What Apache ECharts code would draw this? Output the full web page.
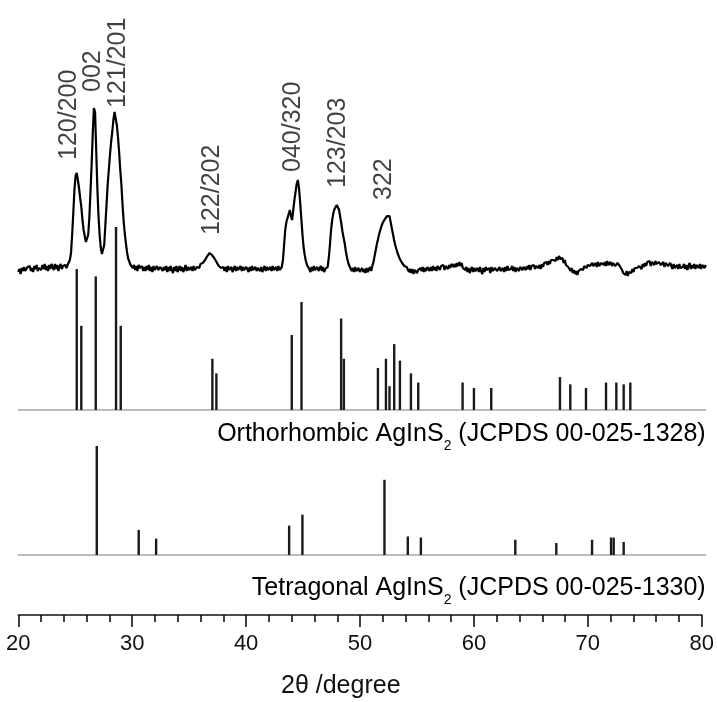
<!DOCTYPE html>
<html>
<head>
<meta charset="utf-8">
<script src="https://cdn.jsdelivr.net/npm/echarts@6/dist/echarts.min.js"></script>
<style>
  html, body { margin: 0; padding: 0; background: #fff; }
  #chart { width: 717px; height: 702px; }
</style>
</head>
<body>
<div id="chart"></div>
<script>
// measured XRD trace, 20-80 deg, 0.1 deg steps (a.u.)
const twoThetaStart = 20;
const twoThetaStep = 0.1;
const intensity = [
  8,11,6,12,9,13,9,8,13,11,
  14,9,12,8,14,11,15,9,12,14,
  10,15,11,16,10,14,9,15,11,16,
  13,10,16,11,15,9,13,16,11,14,
  12,15,12,15,17,20,27,45,67,90,
  104,107,100,92,82,73,60,50,44,38,
  38,45,62,88,115,147,172,168,130,92,
  64,45,32,26,25,35,55,75,95,110,
  125,138,148,160,168,166,155,143,128,110,
  95,75,58,46,36,27,21,18,15,14,
  12,15,10,14,9,15,12,10,14,9,
  13,9,14,10,15,9,13,8,14,10,
  9,14,10,8,13,15,9,13,10,14,
  8,13,9,14,10,7,13,9,14,8,
  11,14,9,13,8,11,15,9,13,10,
  8,13,9,14,10,9,13,15,12,16,
  14,17,16,20,19,24,23,27,26,25,
  24,22,20,18,16,14,13,12,11,13,
  9,13,8,14,10,9,13,8,11,14,
  9,13,10,8,14,9,13,10,8,13,
  11,8,13,9,14,10,8,13,9,12,
  14,9,13,8,11,14,9,13,10,8,
  13,9,14,10,8,13,9,14,10,12,
  13,20,35,50,58,62,66,70,64,60,
  70,80,88,96,100,92,78,62,46,33,
  25,19,15,13,11,8,13,9,14,10,
  8,13,9,11,14,9,13,8,11,13,
  13,22,35,50,60,67,71,73,75,74,
  70,63,56,48,42,36,28,22,17,14,
  12,9,12,8,13,9,7,12,8,10,
  12,8,11,7,12,8,10,13,9,14,
  18,24,30,36,41,46,50,54,57,59,
  61,62,64,66,64,58,52,46,40,35,
  31,27,24,21,19,17,15,14,13,13,
  11,8,11,7,11,6,10,11,7,10,
  8,12,9,13,8,12,9,13,11,9,
  13,9,14,10,13,9,14,12,10,14,
  12,15,10,14,16,11,15,12,16,14,
  13,16,13,17,14,18,14,17,12,11,
  10,13,8,12,7,10,13,8,12,9,
  7,12,8,13,9,6,12,8,13,10,
  8,12,7,13,9,8,12,14,9,8,
  13,9,7,12,8,13,9,14,10,8,
  11,14,9,13,8,12,14,9,13,11,
  10,13,15,10,14,11,15,10,14,12,
  15,11,14,16,12,15,11,16,13,17,
  15,18,15,19,16,20,19,20,22,19,
  23,20,24,21,20,22,17,20,15,16,
  13,12,9,12,7,10,6,9,5,9,
  8,11,13,10,14,16,12,15,17,14,
  14,17,14,12,17,13,18,14,12,17,
  19,15,18,14,19,15,13,18,14,17,
  18,14,13,17,19,14,12,10,7,7,
  5,9,4,8,9,7,11,8,12,10,
  12,10,14,13,11,16,13,17,14,18,
  16,19,14,18,20,15,19,16,14,18,
  19,15,14,18,13,17,19,14,12,17,
  14,11,16,12,10,15,11,16,12,10,
  13,16,11,15,10,14,17,11,15,12,
  16,11,15,17,12,16,11,15,17,12,
  15
];

// peak labels
const peakNames = ["120/200", "002", "121/201", "122/202", "040/320", "123/203", "322"];
const peakPos = [24.47, 26.52, 28.70, 36.90, 43.97, 47.90, 51.91];
const peakLabelLevel = [120, 188, 172, 45, 108, 92, 80];

// Orthorhombic AgInS2, JCPDS 00-025-1328
const orthoPos = [25.10, 25.50, 26.76, 28.53, 28.94, 36.94, 37.29, 43.87, 44.72, 48.18, 48.42,
  51.39, 52.09, 52.40, 52.81, 53.31, 54.27, 54.91, 58.78, 59.77, 61.28,
  67.28, 68.18, 69.55, 71.30, 72.20, 72.84, 73.42];
const orthoInt = [77, 46, 73, 100, 46, 28, 20, 41, 59, 50, 28,
  23, 28, 13, 36, 27, 20, 15, 15, 12, 12,
  18, 14, 12, 15, 15, 14, 15];

// Tetragonal AgInS2, JCPDS 00-025-1330
const tetraPos = [26.85, 30.51, 32.03, 43.64, 44.80, 51.96, 54.00, 55.14, 63.38, 66.96, 70.08, 71.74, 71.97, 72.84];
const tetraInt = [100, 23, 15, 27, 37, 69, 17, 16, 14, 11, 14, 16, 16, 12];

const xTicks = [20, 30, 40, 50, 60, 70, 80];

const FONT = "'Liberation Sans', Arial, sans-serif";
const chart = echarts.init(document.getElementById("chart"));

const traceData = intensity.map(function (v, i) {
  return [+(twoThetaStart + i * twoThetaStep).toFixed(1), v];
});
const pair = function (xs, ys) { return xs.map(function (x, i) { return [x, ys[i]]; }); };

const L = 18.3, R = 11.3;
function hiddenX(idx) {
  return { gridIndex: idx, type: "value", min: xTicks[0], max: xTicks[xTicks.length - 1], show: false };
}
function stickX(idx) {
  return {
    gridIndex: idx, type: "value", min: xTicks[0], max: xTicks[xTicks.length - 1],
    axisLine: { show: true, onZero: false, lineStyle: { color: "#a8a8a8", width: 1.5 } },
    axisTick: { show: false }, axisLabel: { show: false }, splitLine: { show: false }
  };
}
function hiddenY(idx, max) {
  return { gridIndex: idx, type: "value", min: 0, max: max, show: false };
}

const subRich = {
  a: { fontSize: 25, fontFamily: FONT, color: "#111", lineHeight: 25, padding: [0, 0, 13, 0] },
  s: { fontSize: 14, fontFamily: FONT, color: "#111", lineHeight: 14, verticalAlign: "bottom" }
};

chart.setOption({
  animation: false,
  backgroundColor: "#fff",
  grid: [
    { left: L, right: R, top: 0, height: 280 },
    { left: L, right: R, top: 227, height: 183 },
    { left: L, right: R, top: 446, height: 109 },
    { left: L, right: R, top: 590, height: 25 }
  ],
  xAxis: [
    hiddenX(0),
    stickX(1),
    stickX(2),
    {
      gridIndex: 3, type: "value", min: 20, max: 80, interval: 10,
      axisLine: { show: true, onZero: false, lineStyle: { color: "#111", width: 1.6 } },
      axisTick: { show: true, length: 12, lineStyle: { color: "#111", width: 1.6 } },
      minorTick: { show: true, splitNumber: 5, length: 7, lineStyle: { color: "#111", width: 1.6 } },
      axisLabel: { color: "#111", fontSize: 22, fontFamily: FONT, margin: 18 },
      splitLine: { show: false }
    }
  ],
  yAxis: [hiddenY(0, 280), hiddenY(1, 100), hiddenY(2, 100), hiddenY(3, 1)],
  series: [
    {
      type: "line", xAxisIndex: 0, yAxisIndex: 0, data: traceData,
      showSymbol: false, symbol: "none",
      lineStyle: { color: "#000", width: 2.2 }
    },
    {
      type: "scatter", xAxisIndex: 0, yAxisIndex: 0,
      data: peakPos.map(function (x, i) { return { name: peakNames[i], value: [x, peakLabelLevel[i]] }; }),
      symbolSize: 0, silent: true,
      label: {
        show: true, formatter: "{b}", rotate: 90, position: [0, 0],
        align: "left", verticalAlign: "middle",
        fontSize: 25, fontFamily: FONT, color: "#111"
      }
    },
    {
      type: "bar", xAxisIndex: 1, yAxisIndex: 1, data: pair(orthoPos, orthoInt),
      barWidth: 2.4, itemStyle: { color: "#1a1a1a" }
    },
    {
      type: "bar", xAxisIndex: 2, yAxisIndex: 2, data: pair(tetraPos, tetraInt),
      barWidth: 2.4, itemStyle: { color: "#1a1a1a" }
    }
  ],
  graphic: [
    {
      type: "text", right: R, top: 422,
      style: { text: "{a|Orthorhombic AgInS}{s|2}{a| (JCPDS 00-025-1328)}", rich: subRich }
    },
    {
      type: "text", right: R, top: 576,
      style: { text: "{a|Tetragonal AgInS}{s|2}{a| (JCPDS 00-025-1330)}", rich: subRich }
    },
    {
      type: "text", left: 281, top: 674,
      style: { text: "2θ /degree", font: "25px " + FONT, fill: "#111" }
    }
  ]
});
</script>
</body>
</html>
